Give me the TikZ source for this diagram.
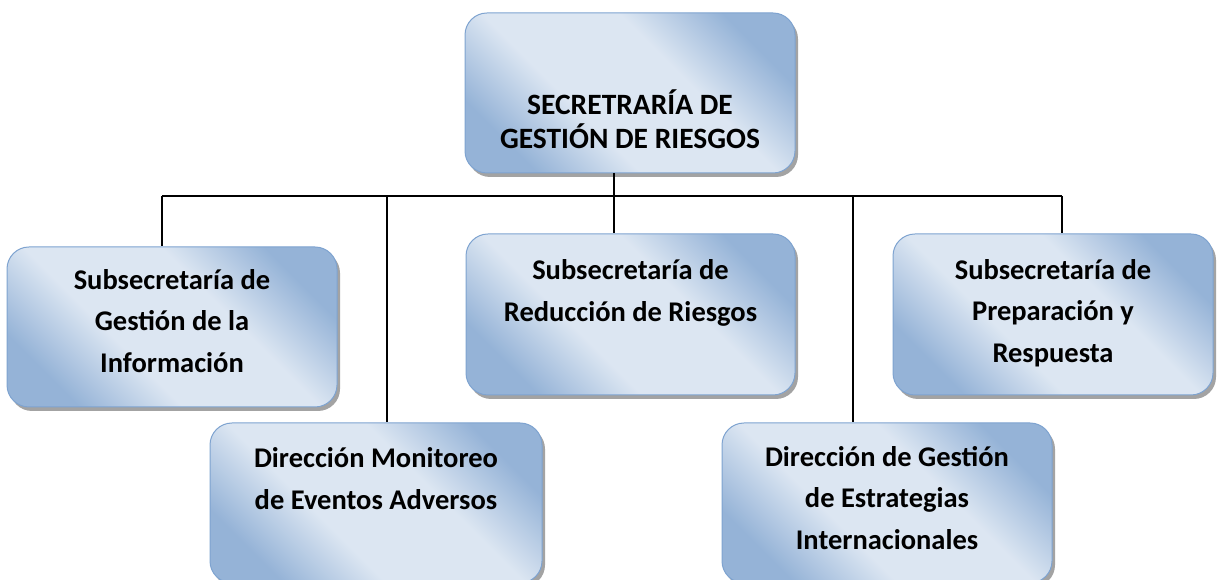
\documentclass[tikz,border=0pt]{standalone}
\usepackage{fontspec}
\setmainfont{Carlito}
\usetikzlibrary{positioning,shadows}
\definecolor{boxdark}{HTML}{95B3D7}
\definecolor{boxlight}{HTML}{DCE6F2}
\definecolor{boxline}{HTML}{7EA3D0}
\definecolor{shadowgray}{HTML}{8C8C8C}
\pgfdeclareverticalshading{boxfade}{100bp}{color(0bp)=(boxdark); color(25bp)=(boxdark); color(40bp)=(boxlight); color(60bp)=(boxlight); color(75bp)=(boxdark); color(100bp)=(boxdark)}

\begin{document}
\begin{tikzpicture}[x=1pt, y=1pt,
  unit/.style={rectangle, rounded corners=22pt, draw=boxline, line width=1pt,
    shading=boxfade, shading angle=-45,
    drop shadow={shadow xshift=3pt, shadow yshift=-4pt, fill=shadowgray, opacity=0.8},
    minimum width=330pt, minimum height=160pt, inner sep=0pt},
  lbl/.style={align=center, inner sep=0pt, font=\bfseries\fontsize{28.5}{41.5}\selectfont},
  toplbl/.style={lbl, font=\bfseries\fontsize{29.5}{34}\selectfont},
  link/.style={line width=2pt}]

  \useasboundingbox (0,0) rectangle (1217,580);
  \clip (0,0) rectangle (1217,580);

  % Secretaria
  \node[unit] (sgr) at (630,487) {};
  \node[toplbl, below=136pt of sgr.north, anchor=base] (sgr-t) {SECRETRARÍA DE\\GESTIÓN DE RIESGOS};

  % Subsecretarias
  \node[unit] (sgi) at (172,253) {};
  \node[lbl, below=126pt of sgi.north, anchor=base] (sgi-t) {Subsecretaría de\\Gestión de la\\Información};

  \node[unit, minimum width=329pt, minimum height=161pt] (srr) at (630.5,265.5) {};
  \node[lbl, below=88pt of srr.north, anchor=base] (srr-t) {Subsecretaría de\\Reducción de Riesgos};

  \node[unit, minimum width=320pt, minimum height=161pt] (spr) at (1053,265.5) {};
  \node[lbl, below=129pt of spr.north, anchor=base] (spr-t) {Subsecretaría de\\Preparación y\\Respuesta};

  % Direcciones
  \node[unit, minimum width=332pt] (dme) at (376,77) {};
  \node[lbl, below=87pt of dme.north, anchor=base] (dme-t) {Dirección Monitoreo\\de Eventos Adversos};

  \node[unit] (dge) at (887,77) {};
  \node[lbl, below=127pt of dge.north, anchor=base] (dge-t) {Dirección de Gestión\\de Estrategias\\Internacionales};

  % Bus
  \coordinate (b1) at (162,384);
  \coordinate (b2) at (387,384);
  \coordinate (b3) at (614,384);
  \coordinate (b4) at (853,384);
  \coordinate (b5) at (1062,384);

  \draw[link] (b1) -- (b5);
  \draw[link] (sgr.south -| b3) -- (b3);

  \foreach \b/\n in {b1/sgi, b2/dme, b3/srr, b4/dge, b5/spr} {
    \draw[link] (\b) -- (\b |- \n.north);
  }

\end{tikzpicture}
\end{document}
